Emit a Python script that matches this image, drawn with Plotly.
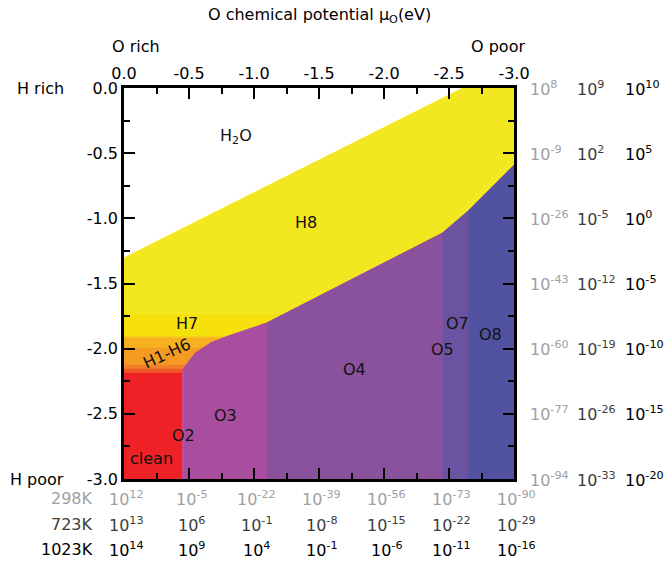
import plotly.graph_objects as go

# ---- phase boundaries (mu_O, mu_H) in eV ----
h2o_line_x = [0.0, -2.6]
h2o_line_y = [-1.30, 0.0]

# upper edge of the oxygen-covered phases (O3 / O4 / O7 / O8)
ox_edge_x = [-0.445, -0.50, -0.55, -0.67, -0.80, -1.10, -2.45, -2.65, -3.0]
ox_edge_y = [-2.17, -2.09, -2.03, -1.95, -1.90, -1.80, -1.11, -0.94, -0.59]

# left limit of each oxide phase along mu_O
x_clean = -0.445
x_o2 = -0.46
x_o3 = -1.10
x_o4 = -2.45
x_o7 = -2.65

# horizontal H-phase bands on the O-rich side (top, bottom, colour)
h_bands = [
    (-1.735, -1.905, "#f7e10c"),   # H7
    (-1.905, -1.915, "#f5c816"),
    (-1.915, -1.99, "#f6b11e"),
    (-1.99, -2.12, "#f49b23"),
    (-2.12, -2.15, "#f27f2a"),
    (-2.15, -2.18, "#ef5a2a"),
]

phase_colors = {
    "H8": "#f3e81f", "clean": "#ee2226", "O2": "#c84c90", "O3": "#a94d9f",
    "O4": "#8a519c", "O7": "#6a53a0", "O8": "#5152a0",
}

labels = ["H<sub>2</sub>O", "H8", "H7", "H1-H6", "O4", "O3", "O2", "clean", "O5", "O7", "O8"]
label_x = [-0.86, -1.40, -0.485, -0.33, -1.77, -0.78, -0.455, -0.215, -2.45, -2.565, -2.82]
label_y = [-0.37, -1.03, -1.81, -2.04, -2.16, -2.51, -2.67, -2.84, -2.01, -1.81, -1.89]
label_angle = [0, 0, 0, -25, 0, 0, 0, 0, 0, 0, 0]

# pressure scales
ticks = [0.0, -0.5, -1.0, -1.5, -2.0, -2.5, -3.0]
tick_text = ["0.0", "-0.5", "-1.0", "-1.5", "-2.0", "-2.5", "-3.0"]
minor_vals = [-0.25, -0.75, -1.25, -1.75, -2.25, -2.75]
temps = ["298K", "723K", "1023K"]
temp_colors = ["#a0a0a0", "#3c3c3c", "#000000"]
o2_exp = [
    ["12", "-5", "-22", "-39", "-56", "-73", "-90"],
    ["13", "6", "-1", "-8", "-15", "-22", "-29"],
    ["14", "9", "4", "-1", "-6", "-11", "-16"],
]
h2_exp = [
    ["8", "-9", "-26", "-43", "-60", "-77", "-94"],
    ["9", "2", "-5", "-12", "-19", "-26", "-33"],
    ["10", "5", "0", "-5", "-10", "-15", "-20"],
]

X_RANGE = [0.0, -3.0]
Y_RANGE = [-3.0, 0.0]
FONT = "DejaVu Sans"


def px_(x):
    """mu_O value -> paper fraction of the x axis."""
    return (x - X_RANGE[0]) / (X_RANGE[1] - X_RANGE[0])


def py_(y):
    """mu_H value -> paper fraction of the y axis."""
    return (y - Y_RANGE[0]) / (Y_RANGE[1] - Y_RANGE[0])


fig = go.Figure()


def poly(xs, ys, color):
    fig.add_trace(go.Scatter(x=xs, y=ys, fill="toself", fillcolor=color, mode="lines",
                             line=dict(width=0, color=color), hoverinfo="skip",
                             showlegend=False))


def edge_y(xq):
    for i in range(len(ox_edge_x) - 1):
        xa, xb = ox_edge_x[i], ox_edge_x[i + 1]
        if xb <= xq <= xa:
            t = (xq - xa) / (xb - xa)
            return ox_edge_y[i] + t * (ox_edge_y[i + 1] - ox_edge_y[i])
    return ox_edge_y[0]


# H8: everything below the water line
poly([h2o_line_x[0], h2o_line_x[1], -3.0, -3.0, 0.0],
     [h2o_line_y[0], h2o_line_y[1], 0.0, -3.0, -3.0], phase_colors["H8"])

# H7 and H1-H6 bands (right part hidden under the oxide phases)
for top, bot, col in h_bands:
    poly([0.0, -1.3, -1.3, 0.0], [top, top, bot, bot], col)

# clean surface
poly([0.0, -0.6, -0.6, 0.0], [-2.18, -2.18, -3.0, -3.0], phase_colors["clean"])

# oxide phases, each drawn from its left limit to the right edge and overlaid in order
for x0, name in [(x_clean, "O2"), (x_o2, "O3"), (x_o3, "O4"), (x_o4, "O7"), (x_o7, "O8")]:
    xs = [x for x in ox_edge_x if x < x0]
    ys = [edge_y(x) for x in xs]
    poly([x0] + xs + [-3.0, x0], [edge_y(x0)] + ys + [-3.0, -3.0], phase_colors[name])

ann = []
for t, x, y, a in zip(labels, label_x, label_y, label_angle):
    ann.append(dict(x=x, y=y, text=t, showarrow=False, textangle=a,
                    xanchor="center", yanchor="middle",
                    font=dict(size=16, color="#111111", family=FONT)))


def paper_text(x, y, text, color="black", anchor="center"):
    ann.append(dict(x=px_(x), y=py_(y), xref="paper", yref="paper", text=text,
                    showarrow=False, xanchor=anchor, yanchor="middle",
                    font=dict(size=16, family=FONT, color=color)))


# axis captions
paper_text(-1.5, 0.56, "O chemical potential \u03bc<sub>O</sub>(eV)")
paper_text(-0.09, 0.32, "O rich")
paper_text(-2.88, 0.32, "O poor")
paper_text(0.45, 0.0, "H rich", anchor="right")
paper_text(0.45, -3.0, "H poor", anchor="right")

# O2 pressure rows under the plot
row_y = [-3.147, -3.346, -3.538]
for k in range(3):
    paper_text(0.225, row_y[k], temps[k], temp_colors[k], "right")
    for xv, e in zip(ticks, o2_exp[k]):
        paper_text(xv - 0.02, row_y[k], "10<sup>%s</sup>" % e, temp_colors[k])

# H2 pressure columns right of the plot
col_x = [-3.108, -3.469, -3.838]
for k in range(3):
    for yv, e in zip(ticks, h2_exp[k]):
        paper_text(col_x[k], yv, "10<sup>%s</sup>" % e, temp_colors[k], "left")

axis_common = dict(
    tickmode="array", tickvals=ticks, ticktext=tick_text, ticks="inside", ticklen=11,
    tickwidth=2, tickcolor="black", showline=True, linewidth=2.5, linecolor="black",
    mirror="ticks", showgrid=False, zeroline=False,
    tickfont=dict(size=16, family=FONT, color="black"),
    minor=dict(tickvals=minor_vals, ticks="inside", ticklen=6, tickwidth=1.5,
               tickcolor="black", showgrid=False),
)

fig.update_layout(
    width=664, height=566,
    margin=dict(l=124, r=150, t=88, b=87),
    paper_bgcolor="white", plot_bgcolor="white",
    xaxis=dict(range=X_RANGE, side="top", **axis_common),
    yaxis=dict(range=Y_RANGE, **axis_common),
    annotations=ann,
    showlegend=False,
)

fig.write_html("out.html")
